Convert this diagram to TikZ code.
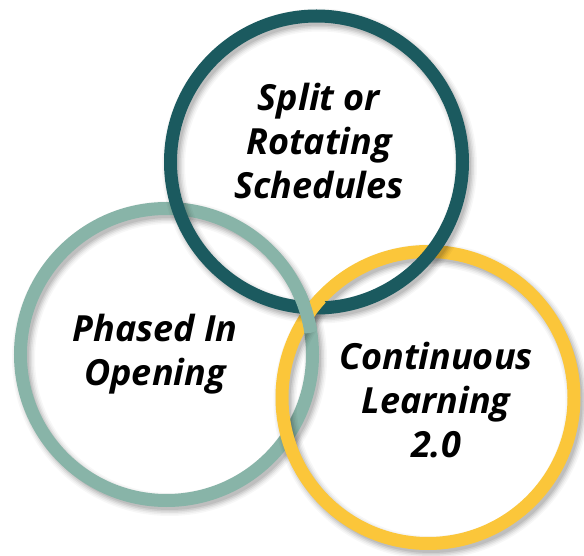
\documentclass[tikz,border=0pt]{standalone}
\usepackage{fontspec}
\setmainfont{Open Sans}
\definecolor{ringdark}{HTML}{1B5A5F}
\definecolor{ringlight}{HTML}{88B4A8}
\definecolor{ringyellow}{HTML}{FBC63A}
\tikzset{
  ringline/.style={line width=13pt},
  label/.style={font=\fontsize{36}{44}\selectfont\bfseries\itshape, align=center, inner sep=0pt, text=black},
}
\newcommand{\ringshade}[1]{%
  \foreach \w/\o in {23/0.03,20/0.04,17/0.055,14/0.07,11/0.08}
    \draw[line width=\w pt, black, opacity=\o] ($(#1)+(3,4)$) circle[radius=146pt];}
\usetikzlibrary{calc}
\begin{document}
\begin{tikzpicture}[x=1pt,y=-1pt]
\useasboundingbox (0,0) rectangle (584,556);
\fill[white] (0,0) rectangle (584,556);
\coordinate (cD) at (316.5,162);
\coordinate (cL) at (166.5,354.5);
\coordinate (cY) at (428,397.5);
% left ring
\ringshade{cL}
\draw[ringline, ringlight] (cL) circle[radius=146pt];
% yellow ring
\ringshade{cY}
\draw[ringline, ringyellow] (cY) circle[radius=146pt];
% dark ring
\ringshade{cD}
\draw[ringline, ringdark] (cD) circle[radius=146pt];
% interlacing: yellow over dark at lower-left crossing
\begin{scope}
  \clip (312.7,308) circle[radius=14pt];
  \draw[ringline, ringyellow] (cY) circle[radius=146pt];
\end{scope}
% interlacing: light ring over dark and yellow near (306,311)
\begin{scope}
  \clip (306,311.4) circle[radius=22pt];
  \draw[ringline, ringlight] (cL) circle[radius=146pt];
\end{scope}
\node[label] (tD) at (319,141) {Split or\\Rotating\\Schedules};
\node[label] (tL) at (155,354) {Phased In\\Opening};
\node[label] (tY) at (436,400) {Continuous\\Learning\\2.0};
\end{tikzpicture}
\end{document}
